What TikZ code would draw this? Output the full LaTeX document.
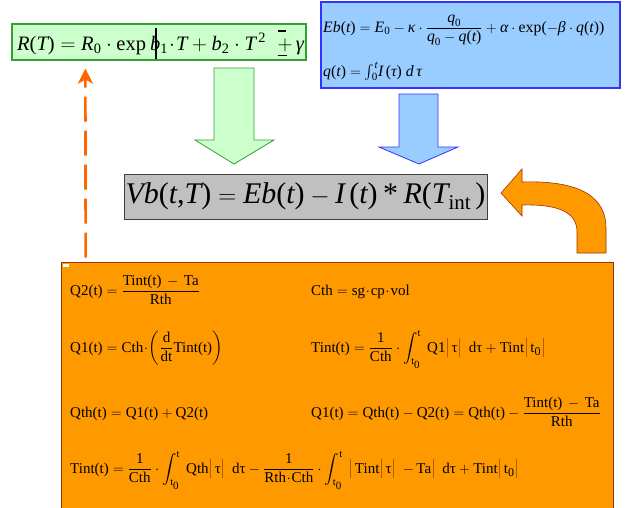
\documentclass[tikz,border=0pt]{standalone}
\usepackage{amsmath}
\usepackage[no-math]{fontspec}
\setmainfont{Liberation Serif}
\usetikzlibrary{arrows.meta,calc}
\definecolor{gfill}{HTML}{CCFFCC}
\definecolor{gline}{HTML}{33A033}
\definecolor{bfill}{HTML}{99CCFF}
\definecolor{bline}{HTML}{3333FF}
\definecolor{grfill}{HTML}{C0C0C0}
\definecolor{grline}{HTML}{404040}
\definecolor{ofill}{HTML}{FF9900}
\definecolor{oline}{HTML}{993300}
\definecolor{dashc}{HTML}{FF6600}
\definecolor{mcbar}{HTML}{B06000}
\newcommand{\mcb}{\mkern2mu\textcolor{mcbar}{\rule[-0.3em]{0.5pt}{1.25em}}\mkern2mu}
\newcommand{\mi}[1]{\text{\itshape #1}}
\newcommand{\tu}[1]{\text{\upshape #1}}
\newcommand{\tz}{\tu{t}_{\text{\fontsize{12}{12}\selectfont 0}}}
\newcommand{\tzi}{\tu{t}_{\text{\fontsize{11}{11}\selectfont 0}}}
\tikzset{
  boxg/.style={draw=gline, fill=gfill, line width=1.2pt, inner sep=0pt},
  boxb/.style={draw=bline, fill=bfill, line width=1.2pt, inner sep=0pt},
  boxgr/.style={draw=grline, fill=grfill, line width=0.8pt, inner sep=0pt},
  boxo/.style={draw=oline, fill=ofill, line width=0.8pt, inner sep=0pt},
  blockg/.style={draw=gline, fill=gfill, line width=0.8pt},
  blockb/.style={draw=bline, fill=bfill, line width=0.8pt},
  curvo/.style={draw=oline, fill=ofill, line width=0.6pt},
  dasharrow/.style={draw=dashc, line width=2.6pt, dash pattern=on 25pt off 9pt,
     -{Stealth[length=15pt,width=15pt,inset=4pt]}},
  mc/.style={anchor=base west, inner sep=0pt, font=\fontsize{15}{18}\selectfont},
  eqtop/.style={anchor=base west, inner sep=0pt}
}
\begin{document}
\begin{tikzpicture}[x=1pt,y=-1pt]
\useasboundingbox (0,0) rectangle (625,507);

% green box
\node[boxg, minimum width=294pt, minimum height=36pt] (rt) at (159,42) {};
\node[eqtop, font=\fontsize{20.5}{24}\selectfont] (rtxt) at (17,50)
  {$\mi{R}\tu{(}\mi{T}\tu{)}=\mi{R}_{\tu{0}}\cdot\tu{exp}\;\,\rule[-0.45em]{1.8pt}{1.5em}\!\!\mi{b}_{\tu{1}}\!\cdot\! \mi{T}+\mi{b}_{\tu{2}}\cdot \mi{T}^{\,\tu{2}}\;\;
   \makebox[0pt][l]{\rule[0.9em]{0.4em}{0.06em}}\makebox[0pt][l]{\rule[-0.3em]{0.45em}{0.06em}}{+}\,\mi{γ}$};

% blue box
\node[boxb, minimum width=299pt, minimum height=86pt] (eb) at (470.5,45) {};
\node[eqtop, font=\fontsize{15.8}{19}\selectfont] (ebtxt) at (323,32)
  {$\mi{Eb}\tu{(}\mi{t}\tu{)}=\mi{E}_{\tu{0}}-\mi{κ}\cdot\dfrac{\mi{q}_{\tu{0}}}{\mi{q}_{\tu{0}}-\mi{q}\tu{(}\mi{t}\tu{)}}+\mi{α}\cdot\tu{exp}\tu{(}{-}\mi{β}\cdot \mi{q}\tu{(}\mi{t}\tu{))}$};
\node[eqtop, font=\fontsize{15.8}{19}\selectfont] (qtxt) at (323,76)
  {$\mi{q}\tu{(}\mi{t}\tu{)}=\int_{\tu{0}}^{\mi{t}}\! \mi{I}\,\tu{(}\mi{τ}\tu{)}\;\mi{d}\,\mi{τ}$};

% block arrows
\path[blockg] (214,68) -- (254,68) -- (254,140) -- (274,140) -- (234,164) -- (195,140) -- (214,140) -- cycle;
\path[blockb] (399,94) -- (438,94) -- (438,147) -- (458,147) -- (419,164) -- (379,147) -- (399,147) -- cycle;

% gray box
\node[boxgr, minimum width=363pt, minimum height=45pt] (vb) at (305.5,196.5)
  {\fontsize{30}{35}\selectfont $\mi{Vb}\tu{(}\mi{t}\tu{,}\mi{T}\tu{)} = \mi{Eb}\tu{(}\mi{t}\tu{)} - \mi{I}\,\tu{(}\mi{t}\tu{)}\mathbin{\tu{*}}\mi{R}\tu{(}\mi{T}_{\tu{int}}\,\tu{)}$};

% curved orange arrow
\path[curvo] (501,193) -- (522,169) -- (522,182) .. controls (585,180) and (606,200) .. (606,228)
  -- (606,253) -- (577,253) -- (577,232) .. controls (577,214) and (562,204) .. (522,205)
  -- (522,216) -- cycle;

% orange box
\node[boxo, minimum width=552pt, minimum height=252pt] (ob) at (337,388) {};
\fill[white] (63,264) rectangle (69,267);

% dashed arrow
\coordinate (dstart) at ($(ob.north west)+(25,-4)$);
\coordinate (dend) at ($(rt.south west)+(74,8)$);
\draw[dasharrow] (dstart) -- (dend);

% formulas
\node[mc] (f1) at (70,295) {$\tu{Q2(t)} = \dfrac{\tu{Tint(t)}\,-\,\tu{Ta}}{\tu{Rth}}$};
\node[mc] (f2) at (311,295) {$\tu{Cth} = \tu{sg}\!\cdot\!\tu{cp}\!\cdot\!\tu{vol}$};
\node[mc] (f3) at (70,352) {$\tu{Q1(t)} = \tu{Cth}\!\cdot\!\left(\dfrac{\tu{d}}{\tu{dt}}\tu{Tint(t)}\right)$};
\node[mc] (f4) at (311,352) {$\tu{Tint(t)} = \dfrac{\tu{1}}{\tu{Cth}}\cdot\displaystyle\int_{\tzi}^{\tu{t}}\ \tu{Q1}\mcb\,\tu{τ}\mcb\ \ \tu{dτ} + \tu{Tint}\mcb\,\tz\mcb$};
\node[mc] (f5) at (70,417) {$\tu{Qth(t)} = \tu{Q1(t)} + \tu{Q2(t)}$};
\node[mc] (f6) at (311,417) {$\tu{Q1(t)} = \tu{Qth(t)} - \tu{Q2(t)} = \tu{Qth(t)} - \dfrac{\tu{Tint(t)}\,-\,\tu{Ta}}{\tu{Rth}}$};
\node[mc] (f7) at (70,473) {$\tu{Tint(t)} = \dfrac{\tu{1}}{\tu{Cth}}\cdot\displaystyle\int_{\tzi}^{\tu{t}}\ \tu{Qth}\mcb\,\tu{τ}\mcb\ \ \tu{dτ} - \dfrac{\tu{1}}{\tu{Rth}\!\cdot\!\tu{Cth}}\cdot\displaystyle\int_{\tzi}^{\tu{t}}\ \mcb\,\tu{Tint}\mcb\,\tu{τ}\mcb\ \ {-}\,\tu{Ta}\mcb\ \ \tu{dτ} + \tu{Tint}\mcb\,\tz\mcb$};
\end{tikzpicture}
\end{document}
